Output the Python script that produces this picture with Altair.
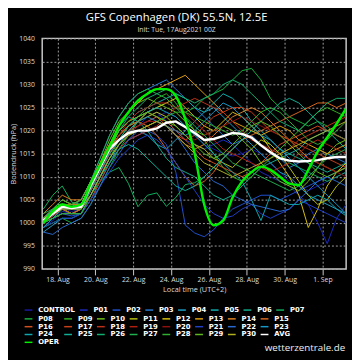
import altair as alt
import pandas as pd

# time axis: days since 17 Aug 00:00 local time, 12-hourly
days = [0.25, 0.75, 1.25, 1.75, 2.25, 2.75, 3.25, 3.75, 4.25, 4.75, 5.25, 5.75,
        6.25, 6.75, 7.25, 7.75, 8.25, 8.75, 9.25, 9.75, 10.25, 10.75, 11.25,
        11.75, 12.25, 12.75, 13.25, 13.75, 14.25, 14.75, 15.25, 15.75, 16.25]

tick_days = [1, 3, 5, 7, 9, 11, 13, 15]
tick_labels = ["18. Aug", "20. Aug", "22. Aug", "24. Aug", "26. Aug", "28. Aug", "30. Aug", "1. Sep"]
y_ticks = [990, 995, 1000, 1005, 1010, 1015, 1020, 1025, 1030, 1035, 1040]

CONTROL = [1000, 1001.5, 1003, 1002.5, 1003, 1007, 1011, 1015, 1018, 1020, 1021, 1022, 1023, 1024, 1023, 1021, 1019, 1017, 1016, 1015, 1014.5, 1015, 1016, 1015, 1013, 1011, 1009, 1008, 1007, 1008, 1009, 1010, 1011]
P01 = [999, 1000.5, 1002.5, 1002, 1003, 1006, 1010, 1014, 1017, 1019, 1021, 1023, 1024, 1022, 1020, 1018, 1017, 1016, 1017, 1018, 1017, 1015, 1013, 1011, 1010, 1009, 1008, 1006, 1004, 1000, 995.5, 1001, 1004]
P02 = [1000, 1001, 1002, 1001.5, 1002, 1005, 1009, 1013, 1016, 1018, 1019, 1020, 1019, 1017, 1011, 999.5, 997.8, 997, 998.5, 1001, 1003, 1004, 1005, 1006, 1006, 1005, 1006, 1007, 1008, 1009, 1010, 1011, 1012]
P03 = [1001, 1002, 1004, 1003.5, 1005, 1009, 1014, 1019, 1023, 1026, 1028, 1029, 1030, 1031, 1029, 1027, 1025, 1023, 1021, 1019, 1017, 1018, 1019, 1017, 1015, 1014, 1012, 1013, 1015, 1016, 1015, 1014, 1013]
P04 = [998, 999.5, 1001, 1001, 1002, 1005, 1009, 1013, 1017, 1019, 1020, 1019, 1017, 1016, 1018, 1020, 1022, 1024, 1025, 1023, 1021, 1019, 1017, 1015, 1013, 1011, 1010, 1008, 1006, 1005, 1004, 1003, 1002]
P05 = [1000, 1002, 1003, 1002, 1003, 1008, 1012, 1016, 1020, 1022, 1024, 1025, 1026, 1027, 1028, 1027, 1025, 1024, 1026, 1028, 1027, 1025, 1022, 1020, 1018, 1016, 1015, 1016, 1018, 1019, 1020, 1019, 1018]
P06 = [1001, 1002.5, 1004, 1003.5, 1004, 1008, 1012, 1017, 1021, 1023, 1022, 1020, 1017, 1014, 1012, 1011, 1010, 1008, 1006, 1005, 1006, 1008, 1010, 1012, 1013, 1014, 1015, 1014, 1013, 1012, 1011, 1012, 1013]
P07 = [1003, 1006, 1008, 1004.5, 1004, 1006, 1009, 1011, 1012, 1008.5, 1003.5, 1006, 1006.5, 1003.6, 1005.5, 1008.3, 1008.7, 1010, 1012, 1014, 1016, 1018, 1020, 1019, 1017, 1015, 1013, 1012, 1011, 1010, 1009, 1010, 1011]
P08 = [999, 1000, 1001, 1000, 1001, 1004, 1008, 1012, 1016, 1019, 1022, 1024, 1025, 1026, 1025, 1024, 1025, 1027, 1028, 1029, 1031, 1033, 1033.5, 1031, 1027, 1025, 1023, 1022, 1021, 1022, 1021, 1019, 1018]
P09 = [1000, 1001, 1003, 1002, 1002, 1006, 1010, 1014, 1018, 1021, 1023, 1025, 1027, 1028, 1026, 1023, 1020, 1018, 1015, 1012, 1010, 1009, 1010, 1012, 1014, 1016, 1018, 1020, 1022, 1024, 1025, 1024, 1023]
P10 = [1001, 1003, 1005, 1004, 1004, 1008, 1013, 1018, 1022, 1024, 1026, 1027, 1026, 1025, 1024, 1022, 1020, 1019, 1020, 1021, 1020, 1018, 1016, 1013, 1011, 1009, 1008, 1007, 1009, 1012, 1015, 1017, 1018]
P11 = [1001, 1002, 1004, 1003, 1004, 1008, 1012, 1016, 1019, 1021, 1022, 1023, 1024, 1023, 1021, 1019, 1017, 1016, 1014, 1013, 1012, 1014, 1016, 1018, 1017, 1015, 1012, 1009, 1006, 1004, 1005, 1008, 1010]
P12 = [1000, 1002, 1003, 1002, 1003, 1007, 1011, 1015, 1018, 1020, 1022, 1024, 1025, 1026, 1027, 1025, 1023, 1021, 1020, 1022, 1024, 1023, 1021, 1019, 1016, 1013, 1010, 1006, 999, 1003, 1008, 1011, 1013]
P13 = [1001, 1003, 1005, 1004, 1005, 1009, 1013, 1017, 1021, 1024, 1026, 1028, 1029, 1030, 1031, 1032, 1030, 1028, 1026, 1024, 1022, 1021, 1020, 1019, 1020, 1021, 1020, 1018, 1017, 1016, 1015, 1016, 1017]
P14 = [1002, 1004, 1006, 1005, 1005, 1009, 1013, 1017, 1020, 1022, 1023, 1024, 1023, 1021, 1019, 1017, 1016, 1017, 1019, 1021, 1023, 1024, 1025, 1024, 1022, 1020, 1018, 1016, 1014, 1013, 1012, 1011, 1012]
P15 = [1001, 1003, 1004, 1004, 1004, 1008, 1012, 1016, 1019, 1021, 1022, 1021, 1019, 1016, 1013, 1010, 1008, 1009, 1011, 1014, 1016, 1018, 1019, 1020, 1021, 1022, 1023, 1024, 1025, 1026, 1026, 1025, 1026]
P16 = [1000, 1001.5, 1003, 1002, 1003, 1007, 1011, 1015, 1018, 1020, 1021, 1022, 1023, 1022, 1020, 1018, 1016, 1014, 1013, 1012, 1011, 1010, 1011, 1013, 1015, 1017, 1018, 1019, 1020, 1021, 1020, 1019, 1018]
P17 = [1001, 1002, 1004, 1003, 1003, 1006, 1010, 1014, 1017, 1019, 1020, 1021, 1022, 1021, 1019, 1018, 1019, 1021, 1023, 1024, 1025, 1025, 1024, 1022, 1020, 1019, 1018, 1017, 1016, 1015, 1014, 1013, 1012]
P18 = [999, 1001, 1002, 1002, 1002, 1005, 1009, 1013, 1016, 1018, 1019, 1020, 1021, 1023, 1025, 1026, 1027, 1026, 1025, 1024, 1022, 1020, 1018, 1017, 1016, 1015, 1016, 1018, 1019, 1020, 1021, 1022, 1023]
P19 = [1000, 1002, 1004, 1003, 1003, 1007, 1011, 1015, 1019, 1022, 1024, 1025, 1026, 1026, 1025, 1024, 1022, 1020, 1018, 1016, 1015, 1014, 1013, 1012, 1011, 1012, 1013, 1015, 1017, 1018, 1017, 1016, 1015]
P20 = [1001, 1002, 1003, 1003, 1004, 1007, 1011, 1014, 1017, 1019, 1021, 1022, 1022, 1021, 1020, 1019, 1018, 1019, 1020, 1021, 1022, 1023, 1022, 1021, 1020, 1019, 1017, 1015, 1014, 1013, 1012, 1011, 1010]
P21 = [999, 1000, 1001, 1001, 1002, 1005, 1008, 1011, 1014, 1016, 1018, 1019, 1018, 1016, 1013, 1010, 1007, 1004, 1002, 1001, 1001.5, 1003, 1004, 1002, 1001, 1002, 1003, 1005, 1004, 1003, 1002, 1001, 1000]
P22 = [998, 997.5, 999, 1000, 1001, 1004, 1008, 1012, 1015, 1018, 1020, 1021, 1022, 1021, 1019, 1016, 1013, 1011, 1009, 1008, 1006, 1005, 1004, 1003.5, 1003, 1002.5, 1003, 1005, 1007, 1009, 1010, 1009, 1008]
P23 = [999, 1001, 1002, 1002, 1002, 1006, 1010, 1014, 1017, 1020, 1022, 1023, 1022, 1021, 1020, 1019, 1020, 1022, 1024, 1026, 1025, 1023, 1021, 1019, 1018, 1016, 1014, 1012, 1010, 1008, 1006, 1004, 1002]
P24 = [1000, 1001, 1003, 1003, 1003, 1007, 1011, 1015, 1018, 1021, 1023, 1024, 1025, 1024, 1023, 1021, 1019, 1017, 1015, 1013, 1011, 1009, 1005, 1000.5, 1006, 1005, 1004, 1004, 1005, 1006, 1005, 1003, 1001.5]
P25 = [1001, 1003, 1004, 1003, 1003, 1006, 1010, 1013, 1016, 1017, 1016, 1014, 1012, 1010, 1008, 1007, 1008, 1010, 1012, 1014, 1016, 1018, 1020, 1022, 1024, 1026, 1027, 1026, 1024, 1022, 1020, 1018, 1016]
P26 = [1000, 1002, 1004, 1003, 1004, 1008, 1012, 1016, 1020, 1023, 1025, 1027, 1028, 1029, 1028, 1027, 1026, 1027, 1028, 1030, 1031, 1030, 1028, 1026, 1024, 1022, 1021, 1020, 1022, 1024, 1026, 1027, 1027]
P27 = [1002, 1003, 1005, 1004, 1005, 1009, 1014, 1019, 1023, 1026, 1028, 1029, 1028, 1027, 1025, 1023, 1021, 1019, 1017, 1015, 1013, 1012, 1011, 1010, 1009, 1008, 1007, 1008, 1010, 1012, 1014, 1015, 1016]
P28 = [1000, 1001, 1002, 1002, 1002, 1006, 1010, 1014, 1017, 1019, 1020, 1021, 1022, 1023, 1024, 1024, 1023, 1022, 1021, 1020, 1019, 1020, 1022, 1024, 1025, 1024, 1022, 1020, 1018, 1017, 1018, 1020, 1022]
P29 = [1001, 1002, 1004, 1003, 1004, 1008, 1012, 1016, 1020, 1022, 1023, 1024, 1023, 1022, 1021, 1019, 1017, 1015, 1014, 1015, 1017, 1019, 1021, 1022, 1021, 1019, 1017, 1015, 1013, 1011, 1010, 1011, 1012]
P30 = [1000, 1002, 1003, 1003, 1003, 1006, 1010, 1014, 1017, 1019, 1020, 1021, 1022, 1021, 1019, 1017, 1015, 1013, 1012, 1011, 1010, 1011, 1012, 1013, 1014, 1015, 1016, 1017, 1018, 1019, 1020, 1021, 1022]
AVG = [1000.5, 1002, 1003.5, 1003.2, 1003.5, 1008, 1012, 1016, 1018, 1019.5, 1020, 1020, 1020.5, 1021.7, 1022, 1020.8, 1019.5, 1018, 1018.2, 1018.8, 1019.5, 1019.3, 1018.5, 1016.8, 1015.3, 1014, 1013.5, 1013.3, 1013.4, 1013.6, 1014, 1014.3, 1014.3]
OPER = [1000, 1002.5, 1004, 1003.5, 1004, 1008.5, 1012.5, 1016.5, 1021, 1024, 1026.5, 1028, 1029, 1029, 1027.5, 1022.5, 1015, 1004, 999.5, 1000.5, 1005.5, 1009, 1011, 1012.2, 1011.5, 1010, 1008.5, 1008.2, 1011.5, 1015.5, 1018.5, 1021.5, 1024.8]

# legend row 1 (first line of the key)
first_row = {"CONTROL": CONTROL, "P01": P01, "P02": P02, "P03": P03, "P04": P04,
             "P05": P05, "P06": P06, "P07": P07}
first_row_colors = ["#1a1aa0", "#1c2cc0", "#2050d0", "#2878d0", "#1ca0c8", "#10b0b0",
                    "#10b090", "#10b060"]
# remaining members
other_rows = {"P08": P08, "P09": P09, "P10": P10, "P11": P11, "P12": P12, "P13": P13,
              "P14": P14, "P15": P15, "P16": P16, "P17": P17, "P18": P18, "P19": P19,
              "P20": P20, "P21": P21, "P22": P22, "P23": P23, "P24": P24, "P25": P25,
              "P26": P26, "P27": P27, "P28": P28, "P29": P29, "P30": P30}
other_names = list(other_rows.keys()) + ["AVG", "OPER"]
other_colors = ["#18b040", "#30b020", "#70c018", "#b8c010", "#d8c010", "#e0a010",
                "#e08020", "#d86820", "#d05020", "#c84018", "#c03018", "#b02010",
                "#901010", "#2040c8", "#2868d0", "#1898c8", "#10a8b0", "#10b098",
                "#10b070", "#20b050", "#30b030", "#60b820", "#b0b020",
                "#ffffff", "#00f000"]


def to_long(dct):
    rows = []
    for name, vals in dct.items():
        for d, v in zip(days, vals):
            rows.append({"series": name, "d": d, "v": v})
    return pd.DataFrame(rows)


df_first = to_long(first_row)
df_other = to_long(other_rows)
df_avg = pd.DataFrame({"series": "AVG", "d": days, "v": AVG})
df_oper = pd.DataFrame({"series": "OPER", "d": days, "v": OPER})

label_array = "[" + ",".join("'" + t + "'" for t in tick_labels) + "]"

x_enc = alt.X("d:Q",
              scale=alt.Scale(domain=[0.19, 16.25], nice=False, zero=False),
              axis=alt.Axis(values=tick_days, labelExpr=label_array + "[(datum.value-1)/2]",
                            title="Local time (UTC+2)", grid=True, tickSize=6,
                            labelPadding=1, titlePadding=3))
y_enc = alt.Y("v:Q",
              scale=alt.Scale(domain=[990, 1040], nice=False, zero=False),
              axis=alt.Axis(values=y_ticks, format="d", title="Bodendruck (hPa)", grid=True,
                            ticks=False, labelPadding=8, titlePadding=1))

legend_style = dict(title=None, orient="none", direction="horizontal", symbolLimit=40,
                    columns=8, columnPadding=1.5, rowPadding=0,
                    symbolType="stroke", symbolSize=64, symbolStrokeWidth=1.5,
                    labelOffset=5, labelFontSize=7, labelFontWeight="bold",
                    labelColor="white", labelFont="DejaVu Sans", padding=0)

stroke_enc = alt.Stroke("series:N",
                        scale=alt.Scale(domain=list(first_row.keys()), range=first_row_colors),
                        legend=alt.Legend(legendX=-19, legendY=273, **legend_style))
color_enc = alt.Color("series:N",
                      scale=alt.Scale(domain=other_names, range=other_colors),
                      legend=alt.Legend(legendX=-19, legendY=282, **legend_style))

first_layer = alt.Chart(df_first).mark_line(strokeWidth=1, clip=True).encode(
    x=x_enc, y=y_enc, stroke=stroke_enc, detail="series:N")
other_layer = alt.Chart(df_other).mark_line(strokeWidth=1, clip=True).encode(
    x=x_enc, y=y_enc, color=color_enc, detail="series:N")
avg_layer = alt.Chart(df_avg).mark_line(strokeWidth=2.5, clip=True).encode(
    x=x_enc, y=y_enc, color=color_enc)
oper_layer = alt.Chart(df_oper).mark_line(strokeWidth=2.5, clip=True, interpolate="monotone").encode(
    x=x_enc, y=y_enc, color=color_enc)

mark_df = pd.DataFrame({"t": ["wetterzentrale.de"]})
watermark = alt.Chart(mark_df).mark_text(
    align="right", baseline="middle", fontSize=10, color="#eeeeee", font="Open Sans"
).encode(x=alt.value(310), y=alt.value(317), text="t:N")

chart = alt.layer(first_layer, other_layer, avg_layer, oper_layer, watermark).properties(
    width=311, height=236,
    autosize=alt.AutoSizeParams(type="none"),
    padding={"left": 35, "top": 27, "right": 6, "bottom": 89},
    title=alt.TitleParams(
        text="GFS Copenhagen (DK) 55.5N, 12.5E",
        subtitle="Init: Tue, 17Aug2021 00Z",
        anchor="middle", dx=-18, fontSize=11.5, font="Open Sans", fontWeight="normal",
        color="white", subtitleFontSize=7, subtitleFont="Open Sans", subtitleColor="#dddddd",
        subtitlePadding=2, offset=2),
).configure(background="black").configure_view(
    stroke="#c8c8c8", strokeWidth=1.5
).configure_axis(
    labelColor="#dddddd", titleColor="#dddddd", labelFont="Open Sans", titleFont="Open Sans",
    labelFontSize=7, titleFontSize=7.5, titleFontWeight="normal",
    gridColor="#a0a0a0", gridDash=[2, 2], gridWidth=1, domain=False, tickColor="#cccccc"
)

chart.save("out.html", embed_options={"renderer": "svg", "actions": False})
